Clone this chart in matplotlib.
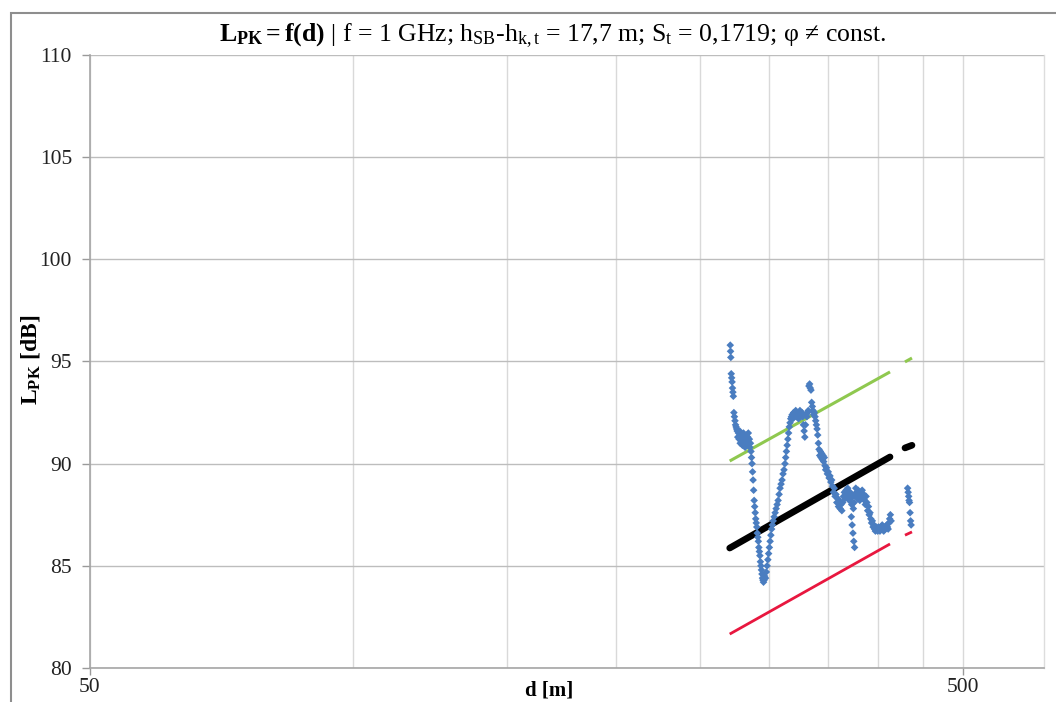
import matplotlib
matplotlib.use("Agg")
import matplotlib.pyplot as plt
from matplotlib.patches import Rectangle
from matplotlib.ticker import FixedLocator, NullFormatter

plt.rcParams['font.family'] = ['Liberation Serif', 'DejaVu Serif']
plt.rcParams['mathtext.fontset'] = 'custom'
plt.rcParams['mathtext.rm'] = 'Liberation Serif'
plt.rcParams['mathtext.it'] = 'Liberation Serif:italic'
plt.rcParams['mathtext.bf'] = 'Liberation Serif:bold'

# Measured path loss L_PK [dB] versus distance d [m]
meas_d = [
    270.6, 270.8, 271.0, 271.3, 271.6, 271.9, 272.2, 272.5, 272.8, 273.2, 273.6, 274.0,
    274.4, 274.8, 275.2, 275.6, 276.0,
    276.5, 277.0, 277.4, 277.8, 278.2, 278.6, 279.0, 279.4, 279.8, 280.2, 280.6, 281.0,
    281.4, 281.8, 282.2, 282.6, 283.0, 283.4, 283.8, 284.2, 284.6, 285.0, 285.4, 285.8, 286.2,
    286.6, 287.0, 287.4, 287.8, 288.2, 288.6, 289.0, 289.4, 289.8, 290.2, 290.6, 291.0,
    291.4, 291.8, 292.2, 292.6, 293.0, 293.4, 293.8, 294.2, 294.6, 295.0, 295.4, 295.8, 296.2,
    297.0, 297.6, 298.2, 298.8, 299.4, 300.0, 300.6, 301.2, 301.8, 302.4, 303.0, 303.8,
    304.6, 305.4, 306.2, 307.0, 307.8, 308.6, 309.4, 310.2, 311.0, 311.8, 312.6, 313.2,
    313.8, 314.4, 315.0, 315.6, 316.2, 316.8, 317.4,
    318.0, 318.6, 319.2, 319.8, 320.4, 321.0, 321.6, 322.2, 322.8, 323.4, 324.0, 324.6,
    325.2, 325.8, 326.4, 327.0, 327.6, 328.2, 328.8, 329.4, 330.0, 330.6, 331.2, 331.8,
    332.4, 333.0, 333.6, 334.2, 334.8, 335.4, 336.0, 336.6, 337.2, 337.8, 338.4, 339.0, 339.6,
    340.2, 340.8, 341.4, 342.0, 342.6, 343.2, 343.8, 344.4, 345.0, 345.6, 346.2, 346.8,
    347.4, 348.0, 348.8, 349.6, 350.4, 351.2, 352.0, 352.8, 353.6, 354.4, 355.2, 356.0,
    356.8, 357.6, 358.4, 359.2, 360.0, 360.8, 361.6, 362.4, 363.2, 364.0, 364.8, 365.6,
    366.4, 367.2, 368.0, 368.8, 369.6, 370.4, 371.2, 372.0, 372.8, 373.6, 374.4, 375.2,
    376.0, 376.8, 377.6, 378.4, 379.2, 380.0, 380.8, 381.6, 382.4, 383.2, 384.0, 384.8,
    385.6, 386.4, 387.2, 388.0, 388.8, 389.6, 390.4, 391.2, 392.0, 392.8, 393.6, 394.4, 395.2,
    372.4, 373.2, 374.0, 374.8, 375.6,
    396.0, 396.8, 397.6, 398.4, 399.2, 400.0, 400.8, 401.6, 402.4, 403.2, 404.0, 404.8,
    405.6, 406.4, 407.2, 408.0, 408.8, 409.6, 410.4, 411.2, 412.0, 412.8, 413.6,
    432.0, 432.6, 433.2, 433.6, 434.2, 434.8, 435.4, 436.0,
]
meas_L = [
    95.8, 95.5, 95.2, 94.4, 94.2, 94.0, 93.7, 93.5, 93.3, 92.5, 92.3, 92.1,
    91.9, 91.8, 91.7, 91.6, 91.3,
    91.5, 91.2, 91.6, 91.0, 91.4, 91.1, 91.3, 90.9, 91.2, 91.5, 91.0, 91.3,
    90.8, 91.1, 91.4, 91.2, 90.9, 91.3, 91.5, 91.0, 91.2, 90.8, 91.0, 90.6, 90.3,
    90.0, 89.6, 89.2, 88.7, 88.2, 87.9, 87.6, 87.3, 87.1, 86.9, 86.6, 86.4,
    86.2, 85.9, 85.7, 85.5, 85.2, 85.0, 84.8, 84.6, 84.4, 84.3, 84.2, 84.3, 84.5,
    84.4, 84.7, 85.0, 85.3, 85.6, 85.9, 86.2, 86.5, 86.8, 87.0, 87.2, 87.4,
    87.6, 87.8, 88.0, 88.2, 88.5, 88.8, 89.0, 89.2, 89.5, 89.7, 90.0, 90.3,
    90.6, 90.9, 91.2, 91.5, 91.8, 92.0, 92.2,
    92.3, 92.4, 92.2, 92.5, 92.3, 92.4, 92.6, 92.3, 92.5, 92.4, 92.2, 92.5,
    92.6, 92.3, 92.4, 92.5, 92.3, 91.9, 91.6, 91.3, 91.9, 92.4, 92.3, 92.5,
    92.6, 93.8, 93.9, 93.7, 93.6, 93.0, 92.8, 92.6, 92.4, 92.5, 92.3, 92.1, 91.9,
    91.7, 91.4, 91.0, 90.7, 90.4, 90.6, 90.3, 90.5, 90.2, 90.4, 90.1, 90.3,
    89.9, 89.7, 89.8, 89.5, 89.6, 89.3, 89.4, 89.1, 89.2, 88.9, 88.6, 88.8,
    88.4, 88.5, 88.1, 88.3, 87.9, 88.2, 87.8, 88.0, 87.7, 88.1, 88.4, 88.6,
    88.3, 88.7, 88.4, 88.8, 88.5, 88.2, 88.6, 88.3, 88.0, 88.4, 87.8, 88.1,
    88.5, 88.8, 88.6, 88.3, 88.7, 88.5, 88.2, 88.6, 88.4, 88.7, 88.3, 88.5,
    88.2, 88.0, 88.4, 88.1, 87.7, 87.9, 87.5, 87.6, 87.3, 87.1, 87.2, 86.9, 87.0,
    87.4, 87.0, 86.6, 86.2, 85.9,
    86.8, 86.7, 86.9, 86.8, 86.7, 86.9, 86.8, 86.7, 86.9, 86.8, 87.0, 86.8,
    86.7, 86.9, 86.8, 86.9, 87.0, 86.9, 86.8, 87.1, 87.3, 87.5, 87.2,
    88.8, 88.6, 88.4, 88.2, 88.1, 87.6, 87.2, 87.0,
]

# Regression line and its upper / lower bounds, in two distance segments
fit_d_1 = [270.2, 412.4]
fit_d_2 = [429.0, 437.0]
mean_L_1 = [85.87, 90.33]
mean_L_2 = [90.77, 90.90]
upper_L_1 = [90.13, 94.49]
upper_L_2 = [94.98, 95.17]
lower_L_1 = [81.66, 86.07]
lower_L_2 = [86.50, 86.66]

x_major = [50, 500]
x_minor = [100, 150, 200, 250, 300, 350, 400, 450]
y_ticks = [80, 85, 90, 95, 100, 105, 110]

W, H = 1056, 702
fig = plt.figure(figsize=(W / 100, H / 100), dpi=100)
left, right, top, bottom = 90, 1044, 55, 668
ax = fig.add_axes([left / W, 1 - bottom / H, (right - left) / W, (bottom - top) / H])

ax.set_xscale('log')
ax.set_xlim(50, 619)
ax.set_ylim(80, 110)

ax.xaxis.set_major_locator(FixedLocator(x_major))
ax.xaxis.set_minor_locator(FixedLocator(x_minor))
ax.xaxis.set_minor_formatter(NullFormatter())
ax.set_xticklabels([str(v) for v in x_major])
ax.set_yticks(y_ticks)
ax.grid(True, which='major', axis='y', color='#bdbdbd', lw=1.0)
ax.grid(True, which='both', axis='x', color='#d9d9d9', lw=1.0)
ax.set_axisbelow(True)

ax.tick_params(axis='both', which='major', labelsize=15.5, color='#9a9a9a',
               length=6, width=1.0, direction='out', labelcolor='#222222')
ax.tick_params(axis='y', which='major', pad=7)
ax.tick_params(axis='x', which='major', pad=2, length=5)
ax.tick_params(axis='x', which='minor', length=0)
for side in ('left', 'bottom'):
    ax.spines[side].set_color('#a6a6a6')
    ax.spines[side].set_linewidth(1.2)
ax.spines['top'].set_visible(False)
ax.spines['right'].set_color('#dddddd')
ax.spines['right'].set_linewidth(1.0)

# Model lines
for d_seg, lo, hi, mid in ((fit_d_1, lower_L_1, upper_L_1, mean_L_1),
                           (fit_d_2, lower_L_2, upper_L_2, mean_L_2)):
    ax.plot(d_seg, hi, color='#8fc84f', lw=2.2, solid_capstyle='butt', zorder=3)
    ax.plot(d_seg, lo, color='#e8173f', lw=2.0, solid_capstyle='butt', zorder=3)
    ax.plot(d_seg, mid, color='black', lw=4.8, solid_capstyle='round', zorder=4)

# Measurement points
ax.scatter(meas_d, meas_L, s=15, marker='D', color='#4a7dc0', edgecolors='none', zorder=5)

title = (r"$\mathbf{L_{PK}=f(d)}$ | f = 1 GHz; h$_{\mathrm{SB}}$-h$_{\mathrm{k,t}}$"
         r" = 17,7 m; S$_{\mathrm{t}}$ = 0,1719; φ ≠ const.")
fig.text(553 / W, 1 - 36 / H, title, ha='center', va='center', fontsize=18.5)

fig.text(549 / W, 1 - 690 / H, 'd [m]', ha='center', va='center',
         fontsize=15, fontweight='bold')
fig.text(30 / W, 1 - 360 / H, r"$\mathbf{L_{PK}}$ [dB]", ha='center', va='center',
         rotation=90, fontsize=17, fontweight='bold')

# Chart area border
fig.add_artist(Rectangle((11 / W, -0.1), 1.5, (1 - 13 / H) + 0.1,
                         transform=fig.transFigure, fill=False,
                         edgecolor='#8e8e8e', lw=1.5))

fig.savefig('out.png', dpi=100, facecolor='white')
